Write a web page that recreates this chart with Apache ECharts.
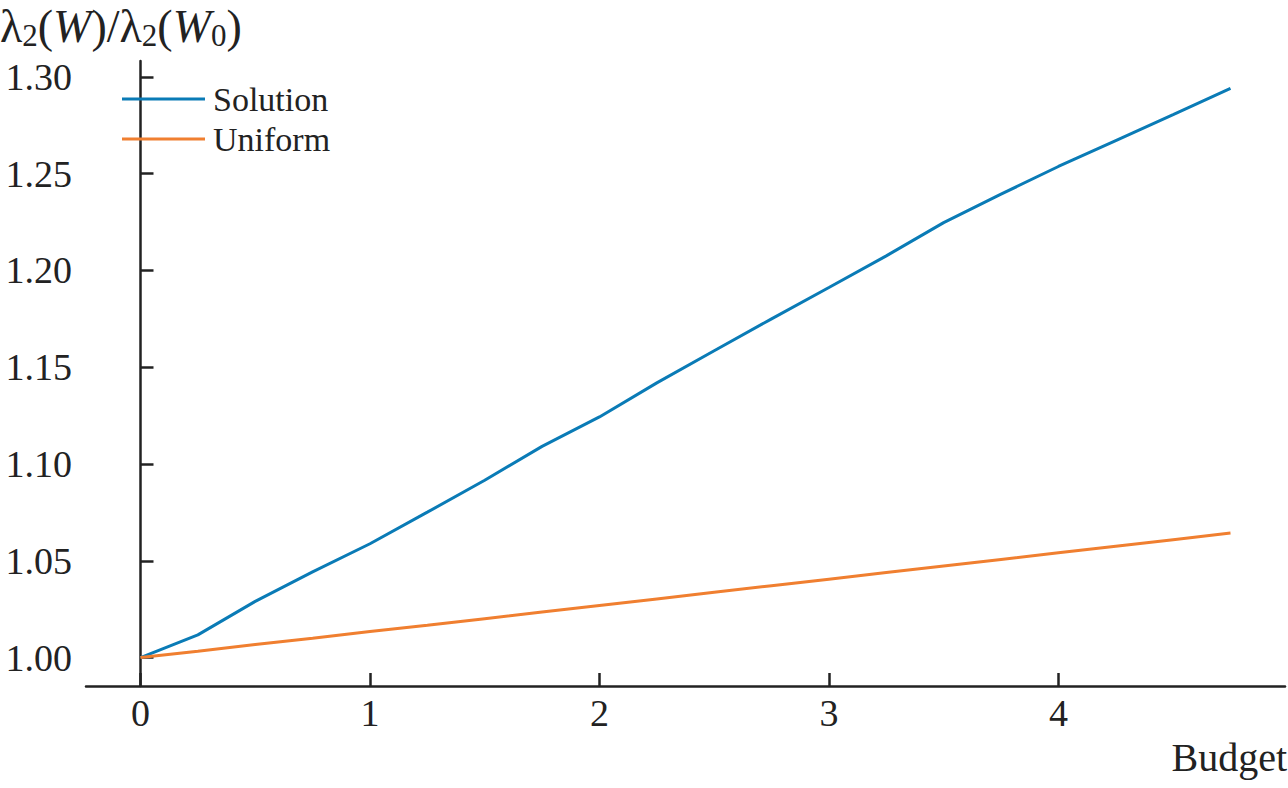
<!DOCTYPE html>
<html>
<head>
<meta charset="utf-8">
<script src="https://cdn.jsdelivr.net/npm/echarts@6/dist/echarts.min.js"></script>
<style>html,body{margin:0;padding:0;background:#fff}#c{width:1288px;height:788px}</style>
</head>
<body>
<div id="c"></div>
<script>
const budget = [0, 0.25, 0.5, 0.75, 1.0, 1.25, 1.5, 1.75, 2.0, 2.25, 2.5, 2.75, 3.0, 3.25, 3.5, 3.75, 4.0, 4.25, 4.5, 4.75];
const solution = [1.0000, 1.0117, 1.0290, 1.0443, 1.0588, 1.0751, 1.0916, 1.1091, 1.1243, 1.1419, 1.1585, 1.1750, 1.1912, 1.2075, 1.2247, 1.2394, 1.2537, 1.2671, 1.2805, 1.2940];
const uniform = [1.0000, 1.0033, 1.0067, 1.0100, 1.0134, 1.0167, 1.0201, 1.0235, 1.0269, 1.0303, 1.0337, 1.0371, 1.0405, 1.0439, 1.0473, 1.0507, 1.0541, 1.0575, 1.0609, 1.0643];
const xTicks = [0, 1, 2, 3, 4];
const yTicks = [1.00, 1.05, 1.10, 1.15, 1.20, 1.25, 1.30];
const seriesNames = ['Solution', 'Uniform'];

const font = "'Liberation Serif', 'DejaVu Serif', serif";
const axisColor = '#222';
const chart = echarts.init(document.getElementById('c'), null, {renderer: 'svg'});
chart.setOption({
  animation: false,
  backgroundColor: '#fff',
  title: [
    {
      text: '{a|λ}{s|2}{a|(}{i|W}{a|)/λ}{s|2}{a|(}{i|W}{s|0}{a|)}',
      left: 0, top: 1, padding: 0,
      textStyle: {
        fontWeight: 'normal',
        rich: {
          a: {fontFamily: font, fontSize: 46, fontWeight: 'normal', color: '#222', lineHeight: 50},
          i: {fontFamily: font, fontSize: 46, fontWeight: 'normal', fontStyle: 'italic', color: '#222', lineHeight: 50},
          s: {fontFamily: font, fontSize: 31, fontWeight: 'normal', color: '#222', lineHeight: 50, padding: [18, 0, 0, 0]}
        }
      }
    },
    {
      text: 'Budget',
      right: 1, top: 737, padding: 0,
      textStyle: {fontFamily: font, fontSize: 40, fontWeight: 'normal', color: '#222'}
    }
  ],
  legend: {
    orient: 'vertical',
    left: 117, top: 74,
    icon: 'rect',
    itemWidth: 83, itemHeight: 3,
    itemGap: 0,
    data: seriesNames,
    textStyle: {fontFamily: font, fontSize: 34, color: '#222', lineHeight: 40, padding: [0, 0, 0, 3]}
  },
  grid: {left: 86, right: 3, top: 61, bottom: 102, containLabel: false},
  xAxis: {
    type: 'value',
    min: -0.2375, max: 4.9875,
    axisLine: {show: true, lineStyle: {color: axisColor, width: 2.5}},
    axisTick: {show: true, inside: true, length: 13, lineStyle: {color: axisColor, width: 2.5}, customValues: xTicks},
    axisLabel: {customValues: xTicks, fontFamily: font, fontSize: 38, color: '#222', margin: 8},
    splitLine: {show: false}
  },
  yAxis: {
    type: 'value',
    min: 0.9853, max: 1.3082,
    axisLine: {show: true, lineStyle: {color: axisColor, width: 2.5}},
    axisTick: {show: true, inside: true, length: 13, lineStyle: {color: axisColor, width: 2.5}, customValues: yTicks},
    axisLabel: {customValues: yTicks, formatter: v => v.toFixed(2), fontFamily: font, fontSize: 38, color: '#222', margin: 14},
    splitLine: {show: false}
  },
  series: [
    {
      name: seriesNames[0], type: 'line', symbol: 'none',
      data: budget.map((b, i) => [b, solution[i]]),
      lineStyle: {color: '#0a7bb6', width: 3}, itemStyle: {color: '#0a7bb6'}
    },
    {
      name: seriesNames[1], type: 'line', symbol: 'none',
      data: budget.map((b, i) => [b, uniform[i]]),
      lineStyle: {color: '#f07f30', width: 3}, itemStyle: {color: '#f07f30'}
    }
  ]
});
</script>
</body>
</html>
